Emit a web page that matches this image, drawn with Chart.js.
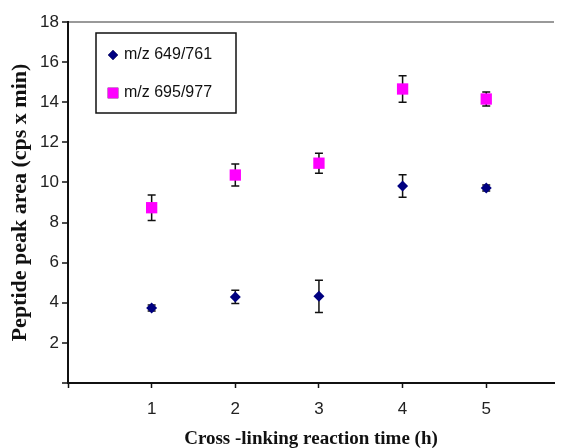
<!DOCTYPE html>
<html>
<head>
<meta charset="utf-8">
<script src="https://cdn.jsdelivr.net/npm/chart.js@4"></script>
<style>
  html, body { margin: 0; padding: 0; background: #fff; overflow: hidden; }
  canvas { display: block; }
</style>
</head>
<body>
<canvas id="myChart" width="562" height="448"></canvas>
<script>
const times = [1, 2, 3, 4, 5];
const labels = ["m/z 649/761", "m/z 695/977"];
const area649 = [3.74, 4.29, 4.32, 9.82, 9.72];
const err649 = [0.15, 0.33, 0.8, 0.56, 0.15];
const area695 = [8.74, 10.37, 10.96, 14.66, 14.16];
const err695 = [0.64, 0.55, 0.5, 0.66, 0.35];
const yTicks = [0, 2, 4, 6, 8, 10, 12, 14, 16, 18];
const xTicks = [0, 1, 2, 3, 4, 5];

const ctx = document.getElementById("myChart");

function points(vals) {
    return times.map((t, i) => ({ x: t, y: vals[i] }));
}

// error bars drawn under the markers
const errorBars = {
    id: 'errorBars',
    beforeDatasetsDraw(chart) {
        const c = chart.ctx;
        const xs = chart.scales.x;
        const ys = chart.scales.y;
        const errs = [err649, err695];
        c.save();
        c.strokeStyle = '#111';
        c.lineWidth = 1.5;
        chart.data.datasets.forEach((ds, d) => {
            ds.data.forEach((p, i) => {
                const e = errs[d][i];
                const px = xs.getPixelForValue(p.x);
                const top = ys.getPixelForValue(p.y + e);
                const bot = ys.getPixelForValue(p.y - e);
                c.beginPath();
                c.moveTo(px, top); c.lineTo(px, bot);
                c.moveTo(px - 4, top); c.lineTo(px + 4, top);
                c.moveTo(px - 4, bot); c.lineTo(px + 4, bot);
                c.stroke();
            });
        });
        c.restore();
    }
};

// boxed legend inside the plot, top left
const boxLegend = {
    id: 'boxLegend',
    afterDraw(chart) {
        const c = chart.ctx;
        c.save();
        c.strokeStyle = '#111';
        c.lineWidth = 1.5;
        c.strokeRect(96, 33, 140, 80);
        c.font = '16px Arial, "Liberation Sans", sans-serif';
        c.textBaseline = 'middle';
        c.fillStyle = '#111';
        const rows = [55, 93];
        chart.data.datasets.forEach((ds, i) => {
            Chart.helpers.drawPoint(c, {
                pointStyle: ds.pointStyle,
                radius: i == 0 ? 5 : 7.5,
                borderWidth: 0
            }, 113, rows[i]);
            c.fillStyle = ds.backgroundColor;
            c.fill();
            c.fillStyle = '#111';
            c.fillText(ds.label, 124, rows[i]);
        });
        c.restore();
    }
};

const config = {
    type: 'scatter',
    data: {
        datasets: [
            {
                label: labels[0],
                data: points(area649),
                pointStyle: 'rectRot',
                pointRadius: 5.5,
                backgroundColor: '#000080',
                borderColor: '#000080',
                borderWidth: 0
            },
            {
                label: labels[1],
                data: points(area695),
                pointStyle: 'rect',
                pointRadius: 8,
                backgroundColor: '#ff00ff',
                borderColor: '#ff00ff',
                borderWidth: 0
            }
        ]
    },
    options: {
        responsive: false,
        animation: false,
        layout: { padding: { top: 22, right: 0, left: 0, bottom: 0 } },
        plugins: {
            legend: { display: false },
            tooltip: { enabled: false }
        },
        scales: {
            x: {
                type: 'linear',
                min: 0,
                max: 5.81,
                afterFit(s) { s.height = 65; },
                afterBuildTicks(s) { s.ticks = xTicks.map(v => ({ value: v })); },
                ticks: {
                    callback: v => v == 0 ? '' : v,
                    color: '#222',
                    font: { family: 'Arial, "Liberation Sans", sans-serif', size: 17 },
                    padding: 11
                },
                grid: {
                    drawOnChartArea: false,
                    drawTicks: true,
                    tickLength: 5,
                    tickColor: '#111',
                    tickWidth: 1.5
                },
                border: { color: '#111', width: 2 },
                title: {
                    display: true,
                    text: 'Cross -linking reaction time (h)',
                    color: '#111',
                    font: { family: '"Liberation Serif", "Times New Roman", serif', size: 19, weight: 'bold', lineHeight: 0.92 },
                    padding: 0
                }
            },
            y: {
                min: 0,
                max: 18,
                afterFit(s) { s.width = 68; },
                afterBuildTicks(s) { s.ticks = yTicks.map(v => ({ value: v })); },
                ticks: {
                    callback: v => v == 0 ? '' : v,
                    color: '#222',
                    font: { family: 'Arial, "Liberation Sans", sans-serif', size: 17 },
                    padding: 3
                },
                grid: {
                    color: c => c.tick && c.tick.value == 18 ? '#999' : 'rgba(0,0,0,0)',
                    lineWidth: 2,
                    drawTicks: true,
                    tickLength: 6,
                    tickColor: '#111',
                    tickWidth: 1.5
                },
                border: { color: '#111', width: 2 },
                title: {
                    display: true,
                    text: 'Peptide peak area (cps x min)',
                    color: '#111',
                    font: { family: '"Liberation Serif", "Times New Roman", serif', size: 22, weight: 'bold' },
                    padding: { top: 7, bottom: 2 }
                }
            }
        }
    },
    plugins: [errorBars, boxLegend]
};

new Chart(ctx, config);
</script>
</body>
</html>
